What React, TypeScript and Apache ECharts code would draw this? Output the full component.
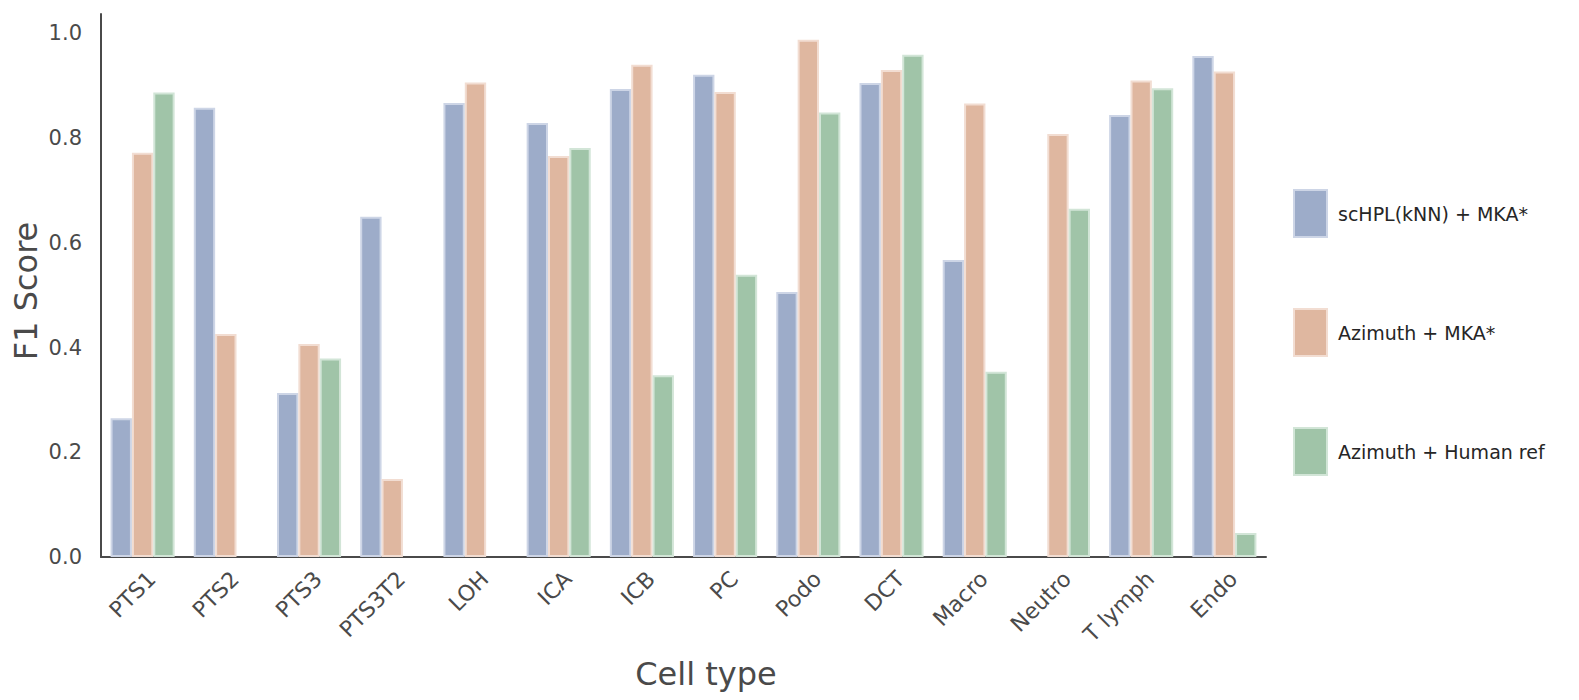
import React, { useEffect, useRef } from "react";
import * as echarts from "echarts";

const categories = ["PTS1", "PTS2", "PTS3", "PTS3T2", "LOH", "ICA", "ICB", "PC", "Podo", "DCT", "Macro", "Neutro", "T lymph", "Endo"];
const seriesNames = ["scHPL(kNN) + MKA*", "Azimuth + MKA*", "Azimuth + Human ref"];
const schplMka = [0.265, 0.858, 0.313, 0.65, 0.867, 0.829, 0.894, 0.921, 0.506, 0.905, 0.567, null, 0.844, 0.957];
const azimuthMka = [0.772, 0.426, 0.407, 0.149, 0.906, 0.766, 0.94, 0.888, 0.988, 0.93, 0.866, 0.808, 0.91, 0.927];
const azimuthHuman = [0.887, null, 0.379, null, null, 0.781, 0.347, 0.539, 0.849, 0.959, 0.354, 0.665, 0.895, 0.046];
const yTickLabels = ["0.0", "0.2", "0.4", "0.6", "0.8", "1.0"];
const xAxisTitle = "Cell type";
const yAxisTitle = "F1 Score";

const fills = ["#9DACC9", "#DFB7A0", "#A0C4A8"];
const borders = ["#CDD5E6", "#F2DDD2", "#D2E5D7"];
const FONT = "DejaVu Sans";
const AXIS_COLOR = "#4a4a4a";

export default function App() {
  const ref = useRef<HTMLDivElement>(null);

  useEffect(() => {
    if (!ref.current) return;
    const chart = echarts.init(ref.current, undefined, { renderer: "svg" });
    const dataSets = [schplMka, azimuthMka, azimuthHuman];
    chart.setOption({
      animation: false,
      backgroundColor: "#ffffff",
      textStyle: { fontFamily: FONT },
      grid: { left: 101, right: 313, top: 14, bottom: 143, containLabel: false },
      legend: {
        orient: "vertical",
        left: 1288,
        top: 184,
        itemWidth: 33,
        itemHeight: 47,
        itemGap: 70,
        icon: "rect",
        selectedMode: false,
        data: seriesNames,
        textStyle: { fontSize: 19, color: "#262626", fontFamily: FONT, padding: [0, 0, 0, 6] },
      },
      xAxis: {
        type: "category",
        data: categories,
        axisTick: { show: false },
        axisLine: { lineStyle: { color: AXIS_COLOR, width: 2 } },
        axisLabel: {
          interval: 0,
          rotate: 45,
          align: "right",
          verticalAlign: "top",
          lineHeight: 26,
          margin: 9,
          fontSize: 22,
          color: AXIS_COLOR,
          fontFamily: FONT,
        },
        splitLine: { show: false },
      },
      yAxis: {
        type: "value",
        min: 0,
        max: 1.037,
        interval: 0.2,
        axisTick: { show: false },
        splitLine: { show: false },
        axisLine: { show: true, lineStyle: { color: AXIS_COLOR, width: 2 } },
        axisLabel: {
          showMaxLabel: false,
          margin: 19,
          fontSize: 21,
          color: AXIS_COLOR,
          fontFamily: FONT,
          formatter: (v: number) => {
            const idx = Math.round(v / 0.2);
            if (Math.abs(v - idx * 0.2) > 1e-6) return "";
            return yTickLabels[idx] ?? "";
          },
        },
      },
      series: seriesNames.map((name, i) => ({
        name,
        type: "bar",
        data: dataSets[i],
        barCategoryGap: "23%",
        barGap: "0%",
        itemStyle: { color: fills[i], borderColor: borders[i], borderWidth: 2 },
        emphasis: { disabled: true },
      })),
      graphic: [
        {
          type: "text",
          x: 26,
          y: 291,
          rotation: Math.PI / 2,
          style: { text: yAxisTitle, fontSize: 32, fill: AXIS_COLOR, fontFamily: FONT, align: "center", verticalAlign: "middle" },
        },
        {
          type: "text",
          x: 706,
          y: 674,
          style: { text: xAxisTitle, fontSize: 32, fill: AXIS_COLOR, fontFamily: FONT, align: "center", verticalAlign: "middle" },
        },
      ],
    });
    return () => chart.dispose();
  }, []);

  return <div ref={ref} style={{ position: "fixed", left: 0, top: 0, width: 1579, height: 700 }} />;
}
